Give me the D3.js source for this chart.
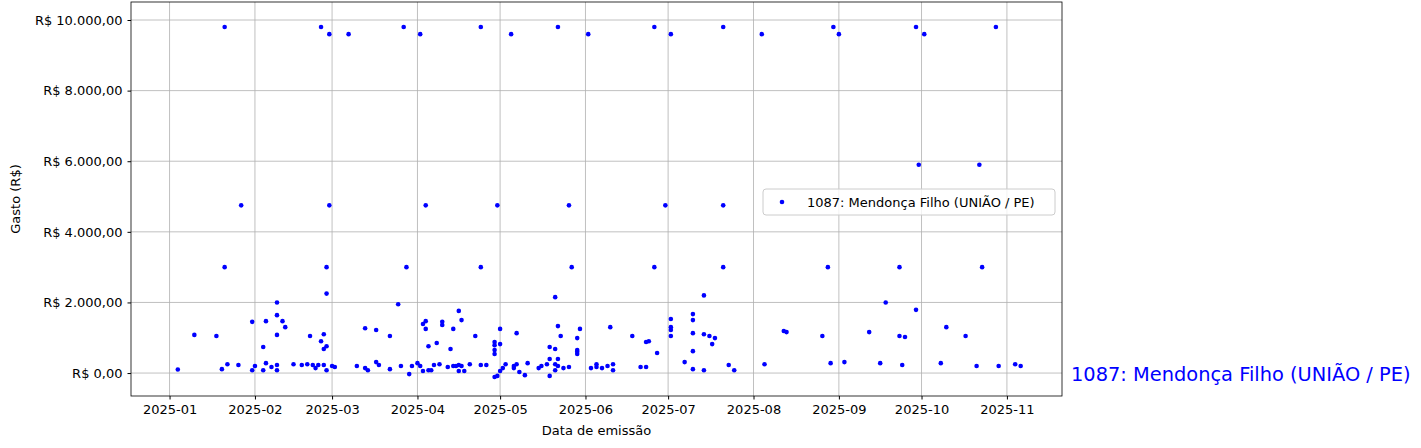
<!DOCTYPE html><html><head><meta charset="utf-8"><script src="https://cdn.jsdelivr.net/npm/d3@7"></script>
<style>body{margin:0;background:#fff}text{font-family:"DejaVu Sans",sans-serif}</style></head><body><svg id="c" width="1421" height="448"></svg><script>
// day offset from 2025-01-01, value (R$)
const days=[20,55,58,65,85,91,113,124,141,152,176,182,201,215,241,243,271,274,300,
26,58,93,119,145,180,201,272,294,
20,57,86,113,146,176,201,239,265,295,
39,57,83,140,194,260,
3,9,17,19,21,25,30,30,31,34,34,35,35,37,39,39,39,39,41,42,45,48,50,51,52,53,54,55,56,56,57,56,57,59,60,68,71,71,72,75,75,76,80,80,84,87,88,90,91,92,93,93,92,94,95,94,96,97,98,99,99,101,102,103,103,105,106,104,105,105,106,107,109,111,113,115,118,118,118,118,118,119,120,120,120,121,122,125,126,126,125,127,129,130,134,135,137,138,138,138,140,140,140,141,141,141,142,143,145,148,148,148,148,149,153,155,155,157,159,160,161,161,168,171,173,173,174,177,182,182,182,182,187,190,190,190,190,190,194,194,196,198,197,203,205,216,223,224,237,240,245,254,258,265,267,266,271,280,282,289,293,301,307,309];
const values=[9800,9800,9600,9600,9800,9600,9800,9600,9800,9600,9800,9600,9800,9600,9800,9600,9800,9600,9800,
4750,4750,4750,4750,4750,4750,4750,5900,5900,
3000,3000,3000,3000,3000,3000,3000,3000,3000,3000,
2000,2250,1950,2150,2200,2000,
100,1080,1050,110,250,230,1450,80,200,740,80,280,1470,170,230,1640,1080,80,1470,1300,250,230,250,1050,230,140,230,900,1100,680,760,230,80,200,170,200,1270,140,80,1220,310,230,1050,110,200,-30,200,280,200,1390,1470,1250,60,80,80,760,230,850,250,1450,1360,170,680,1250,200,1760,1500,200,60,230,200,60,250,1050,230,230,880,790,650,540,-110,-80,1250,820,60,140,250,140,1130,250,200,30,-60,280,140,200,250,740,400,-80,680,80,250,1330,400,200,1050,140,170,650,540,600,990,1250,140,250,170,140,200,1300,80,250,1050,170,170,880,900,570,1050,1220,1300,1530,310,1670,1500,1130,620,110,1100,80,1050,990,820,230,80,250,1190,1160,1050,280,310,1160,280,1050,1020,230,1790,280,1300,1050,200,200,250,200];
const label="1087: Mendonça Filho (UNIÃO / PE)";
const yTicks=[0,2000,4000,6000,8000,10000];
const base=new Date(2025,0,1);
const svg=d3.select("#c");
const L=131,R=1062,T=2,B=396;
const x=d3.scaleTime().domain([d3.timeDay.offset(base,-13.06),d3.timeDay.offset(base,324.6)]).range([L,R]);
const y=d3.scaleLinear().domain([-650,10510]).range([B,T]);
const months=d3.range(0,11).map(m=>new Date(2025,m,1));
const fmtY=v=>"R$ "+d3.format(",.2f")(v).replace(/,/g,"#").replace(".",",").replace(/#/g,".");
svg.append("g").selectAll("line").data(months).join("line").attr("x1",d=>x(d)).attr("x2",d=>x(d)).attr("y1",T).attr("y2",B).attr("stroke","#b0b0b0").attr("stroke-width",0.8);
svg.append("g").selectAll("line").data(yTicks).join("line").attr("y1",d=>y(d)).attr("y2",d=>y(d)).attr("x1",L).attr("x2",R).attr("stroke","#b0b0b0").attr("stroke-width",0.8);
const xa=svg.append("g").attr("transform",`translate(0,${B})`).call(d3.axisBottom(x).tickValues(months).tickFormat(d3.timeFormat("%Y-%m")).tickSizeOuter(0).tickSize(3.5).tickPadding(5));
const ya=svg.append("g").attr("transform",`translate(${L},0)`).call(d3.axisLeft(y).tickValues(yTicks).tickFormat(fmtY).tickSizeOuter(0).tickSize(3.5).tickPadding(5));
[xa,ya].forEach(a=>{a.selectAll("text").attr("font-size",13).attr("fill","#000").attr("font-family","DejaVu Sans");a.select(".domain").remove();});
svg.append("rect").attr("x",L).attr("y",T).attr("width",R-L).attr("height",B-T).attr("fill","none").attr("stroke","#000").attr("stroke-width",0.8);
svg.append("g").selectAll("circle").data(days.map((d,i)=>[d,values[i]])).join("circle").attr("cx",d=>x(d3.timeDay.offset(base,d[0]))).attr("cy",d=>y(d[1])).attr("r",2.3).attr("fill","blue");
svg.append("text").attr("x",(L+R)/2).attr("y",435).attr("text-anchor","middle").attr("font-size",13).text("Data de emissão");
svg.append("text").attr("transform",`translate(20,${(T+B)/2}) rotate(-90)`).attr("text-anchor","middle").attr("font-size",13).text("Gasto (R$)");
const lg=svg.append("g");
lg.append("rect").attr("x",763).attr("y",189).attr("width",292).attr("height",26).attr("rx",3).attr("fill","#fff").attr("fill-opacity",0.8).attr("stroke","#ccc");
lg.append("circle").attr("cx",782).attr("cy",202).attr("r",2.3).attr("fill","blue");
lg.append("text").attr("x",807).attr("y",207).attr("font-size",13).text(label);
svg.append("text").attr("x",1071).attr("y",381).attr("font-size",19.4).attr("fill","blue").text(label);
</script></body></html>
